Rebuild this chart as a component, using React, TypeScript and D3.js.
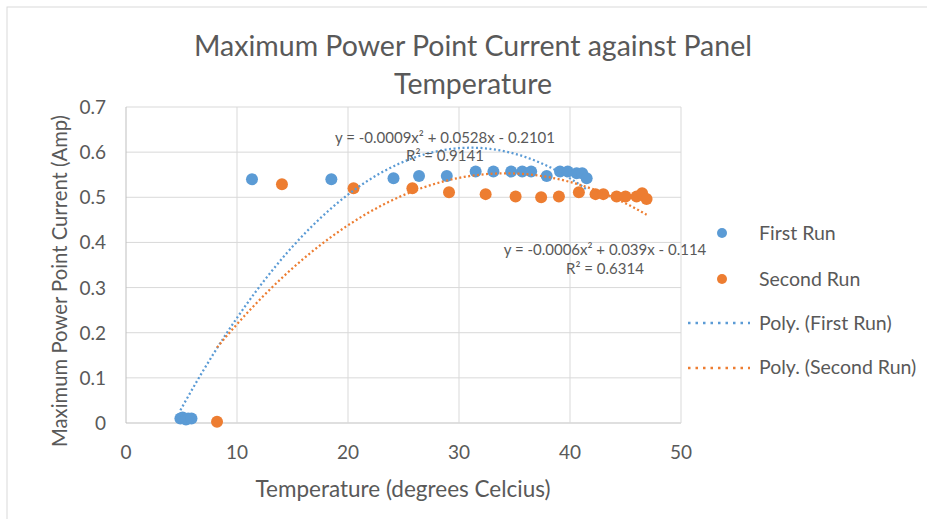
import React from 'react';
import * as d3 from 'd3';

// readings (temperature degC, current A)
const firstTemp = [4.9, 5.1, 5.4, 5.6, 5.9, 11.35, 18.5, 24.1, 26.4, 28.9, 31.5, 33.1, 34.7, 35.7, 36.5, 37.9, 39.1, 39.8, 40.6, 41.1, 41.5];
const firstCurrent = [0.01, 0.012, 0.008, 0.01, 0.01, 0.54, 0.54, 0.542, 0.547, 0.547, 0.557, 0.557, 0.557, 0.557, 0.557, 0.547, 0.557, 0.557, 0.553, 0.553, 0.542];
const secondTemp = [8.2, 14.05, 20.5, 25.8, 29.1, 32.4, 35.1, 37.4, 39.0, 40.8, 42.3, 43.0, 44.2, 45.0, 46.0, 46.5, 46.9];
const secondCurrent = [0.003, 0.529, 0.52, 0.52, 0.511, 0.507, 0.502, 0.5, 0.502, 0.511, 0.507, 0.507, 0.502, 0.502, 0.502, 0.509, 0.496];

// polynomial trendline coefficients [x², x, const]
const firstTrend = [-0.00085, 0.0528, -0.2101];
const secondTrend = [-0.00057, 0.039, -0.114];
const firstEq = ['y = -0.0009x² + 0.0528x - 0.2101', 'R² = 0.9141'];
const secondEq = ['y = -0.0006x² + 0.039x - 0.114', 'R² = 0.6314'];

const xTicks = [0, 10, 20, 30, 40, 50];
const yTicks = [0, 0.1, 0.2, 0.3, 0.4, 0.5, 0.6, 0.7];
const legendLabels = ['First Run', 'Second Run', 'Poly. (First Run)', 'Poly. (Second Run)'];

const BLUE = '#5B9BD5';
const ORANGE = '#ED7D31';
const TEXT = '#595959';
const GRID = '#d9d9d9';
const FONT = 'Lato, sans-serif';

export default function App() {
  const x = d3.scaleLinear().domain([0, 50]).range([126, 681]);
  const y = d3.scaleLinear().domain([0, 0.7]).range([423, 107]);

  const trendPath = (c: number[], temps: number[]) => {
    const [lo, hi] = d3.extent(temps) as [number, number];
    const pts = d3.range(lo, hi + 0.001, (hi - lo) / 80).map(t => [t, c[0] * t * t + c[1] * t + c[2]] as [number, number]);
    return d3.line<[number, number]>().x(d => x(d[0])).y(d => y(d[1]))(pts) || '';
  };

  const fmt = d3.format('.1f');

  return (
    <div style={{ position: 'absolute', left: 0, top: 0 }}>
      <svg width={927} height={519} style={{ display: 'block', background: '#fff' }} fontFamily={FONT}>
        <rect x={7} y={7} width={1000} height={600} fill="#fff" stroke={GRID} strokeWidth={1} />

        {/* title */}
        <text x={473} y={56} textAnchor="middle" fontSize={28.5} fill={TEXT}>Maximum Power Point Current against Panel</text>
        <text x={473} y={94} textAnchor="middle" fontSize={28.5} fill={TEXT}>Temperature</text>

        {/* gridlines */}
        {yTicks.map(t => (
          <line key={'gy' + t} x1={x(0)} x2={x(50)} y1={y(t)} y2={y(t)} stroke={t === 0 ? '#bfbfbf' : GRID} strokeWidth={1} />
        ))}
        {xTicks.map(t => (
          <line key={'gx' + t} x1={x(t)} x2={x(t)} y1={y(0)} y2={y(0.7)} stroke={t === 0 ? '#bfbfbf' : GRID} strokeWidth={1} />
        ))}

        {/* tick labels */}
        {yTicks.map(t => (
          <text key={'ty' + t} x={106} y={y(t) + 7} textAnchor="end" fontSize={19} fill={TEXT}>{t === 0 ? '0' : fmt(t)}</text>
        ))}
        {xTicks.map(t => (
          <text key={'tx' + t} x={x(t)} y={459} textAnchor="middle" fontSize={19} fill={TEXT}>{t}</text>
        ))}

        {/* axis titles */}
        <text x={403} y={497} textAnchor="middle" fontSize={22.5} fill={TEXT}>Temperature (degrees Celcius)</text>
        <text transform="translate(67,281) rotate(-90)" textAnchor="middle" fontSize={20.3} fill={TEXT}>Maximum Power Point Current (Amp)</text>

        {/* points */}
        {firstTemp.map((t, i) => (
          <circle key={'f' + i} cx={x(t)} cy={y(firstCurrent[i])} r={6} fill={BLUE} />
        ))}
        {secondTemp.map((t, i) => (
          <circle key={'s' + i} cx={x(t)} cy={y(secondCurrent[i])} r={6} fill={ORANGE} />
        ))}

        {/* trendlines */}
        <path d={trendPath(firstTrend, firstTemp)} fill="none" stroke={BLUE} strokeWidth={2.25} strokeDasharray="2 2.5" />
        <path d={trendPath(secondTrend, secondTemp)} fill="none" stroke={ORANGE} strokeWidth={2.25} strokeDasharray="2 2.5" />

        {/* trendline equations */}
        <text x={445} y={143} textAnchor="middle" fontSize={15} fill={TEXT}>{firstEq[0]}</text>
        <text x={445} y={161} textAnchor="middle" fontSize={15} fill={TEXT}>{firstEq[1]}</text>
        <text x={605} y={255} textAnchor="middle" fontSize={15} fill={TEXT}>{secondEq[0]}</text>
        <text x={605} y={274} textAnchor="middle" fontSize={15} fill={TEXT}>{secondEq[1]}</text>

        {/* legend */}
        <circle cx={722} cy={233} r={5} fill={BLUE} />
        <circle cx={722} cy={279} r={5} fill={ORANGE} />
        <line x1={688} x2={750} y1={323} y2={323} stroke={BLUE} strokeWidth={2.5} strokeDasharray="2.5 5" />
        <line x1={688} x2={750} y1={368} y2={368} stroke={ORANGE} strokeWidth={2.5} strokeDasharray="2.5 5" />
        {legendLabels.map((l, i) => (
          <text key={l} x={759} y={[240, 286, 330, 374][i]} fontSize={19.5} fill={TEXT}>{l}</text>
        ))}
      </svg>
    </div>
  );
}
